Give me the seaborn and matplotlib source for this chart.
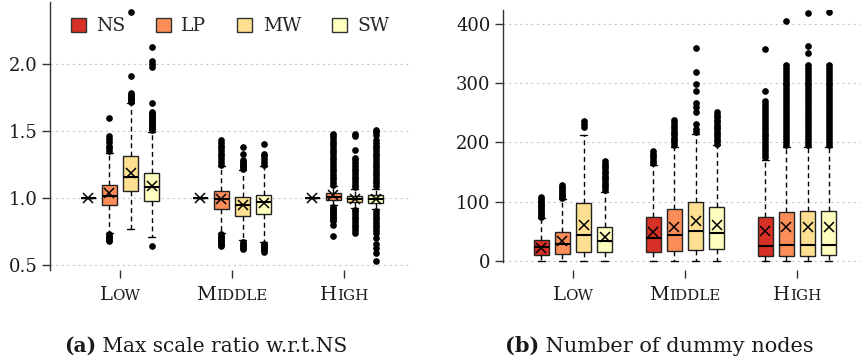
import matplotlib
matplotlib.use("Agg")
import matplotlib.pyplot as plt
import seaborn as sns
from matplotlib.patches import Patch
from matplotlib.offsetbox import TextArea, HPacker, AnnotationBbox

# ---------------- data ----------------
levels = ["Low", "Middle", "High"]
methods = ["NS", "LP", "MW", "SW"]
colors = ["#d73027", "#fc8d59", "#fee090", "#ffffbf"]

# (a) Max scale ratio w.r.t. NS  -- each list ordered NS, LP, MW, SW
a_whislo = {"Low": [1.0, 0.74, 0.77, 0.707], "Middle": [1.0, 0.737, 0.69, 0.67], "High": [1.0, 0.948, 0.925, 0.92]}
a_q1 = {"Low": [1.0, 0.95, 1.05, 0.98], "Middle": [1.0, 0.915, 0.868, 0.878], "High": [1.0, 0.985, 0.968, 0.965]}
a_med = {"Low": [1.0, 1.017, 1.16, 1.08], "Middle": [1.0, 0.993, 0.95, 0.968], "High": [1.0, 1.01, 0.995, 0.995]}
a_q3 = {"Low": [1.0, 1.10, 1.316, 1.19], "Middle": [1.0, 1.052, 1.005, 1.025], "High": [1.0, 1.035, 1.017, 1.022]}
a_whishi = {"Low": [1.0, 1.333, 1.707, 1.49], "Middle": [1.0, 1.24, 1.21, 1.24], "High": [1.0, 1.09, 1.065, 1.07]}
a_mean = {"Low": [1.0, 1.035, 1.19, 1.09], "Middle": [1.0, 0.99, 0.95, 0.96], "High": [1.0, 1.02, 0.995, 0.995]}
a_fliers = {
    "Low": [
        [],
        [0.68, 0.69, 0.70, 0.71, 0.72, 0.73, 1.35, 1.37, 1.39, 1.42, 1.44, 1.46, 1.60],
        [1.72, 1.73, 1.74, 1.75, 1.76, 1.77, 1.78, 1.91, 2.39],
        [0.645, 1.51, 1.52, 1.53, 1.54, 1.55, 1.56, 1.57, 1.58, 1.59, 1.60, 1.61, 1.62,
         1.63, 1.64, 1.71, 1.98, 2.00, 2.02, 2.13],
    ],
    "Middle": [
        [],
        [0.64, 0.65, 0.66, 0.67, 0.68, 0.69, 0.70, 0.71, 0.72, 0.73, 1.25, 1.27, 1.29,
         1.31, 1.33, 1.35, 1.37, 1.39, 1.41, 1.43],
        [0.62, 0.63, 0.64, 0.65, 0.66, 0.67, 1.22, 1.23, 1.24, 1.25, 1.26, 1.27, 1.28, 1.33, 1.38],
        [0.60, 0.61, 0.62, 0.63, 0.64, 0.65, 0.66, 1.25, 1.27, 1.29, 1.31, 1.33, 1.40],
    ],
    "High": [
        [],
        [0.72, 0.80, 0.83, 0.84, 0.85, 0.86, 0.87, 0.88, 0.89, 0.90, 0.91, 0.92, 0.93,
         1.10, 1.12, 1.14, 1.16, 1.18, 1.20, 1.22, 1.24, 1.26, 1.28, 1.30, 1.32, 1.34,
         1.36, 1.38, 1.40, 1.42, 1.44, 1.46, 1.48],
        [0.74, 0.76, 0.78, 0.80, 0.82, 0.84, 0.86, 0.88, 0.90, 0.91, 1.08, 1.10, 1.12,
         1.14, 1.16, 1.18, 1.20, 1.22, 1.24, 1.26, 1.28, 1.30, 1.36, 1.46, 1.48],
        [0.53, 0.59, 0.63, 0.66, 0.70, 0.74, 0.76, 0.78, 0.80, 0.82, 0.84, 0.86, 0.88,
         0.90, 1.09, 1.11, 1.13, 1.15, 1.17, 1.19, 1.21, 1.23, 1.25, 1.27, 1.29, 1.31,
         1.33, 1.35, 1.37, 1.39, 1.41, 1.43, 1.47, 1.49, 1.51],
    ],
}

# (b) Number of dummy nodes
b_whislo = {"Low": [0, 0, 0, 0], "Middle": [0, 0, 0, 0], "High": [0, 0, 0, 0]}
b_q1 = {"Low": [9.6, 11.3, 14.7, 14.7], "Middle": [15.7, 17.5, 18.6, 20.3], "High": [8.4, 9.0, 9.0, 10.0]}
b_med = {"Low": [23.7, 28.7, 44.0, 34.0], "Middle": [38.0, 44.0, 50.0, 48.0], "High": [25.3, 26.5, 26.5, 27.6]}
b_q3 = {"Low": [35.6, 49.4, 97.5, 57.0], "Middle": [75.0, 87.8, 98.9, 90.5], "High": [74.0, 83.0, 84.0, 84.0]}
b_whishi = {"Low": [72, 104, 212, 117], "Middle": [162, 193, 214, 196], "High": [170, 193, 193, 193]}
b_mean = {"Low": [22.6, 33.7, 60.0, 41.0], "Middle": [49.6, 58.0, 66.6, 61.0], "High": [50.6, 57.0, 57.6, 57.6]}
b_fliers = {
    "Low": [
        [74, 77, 80, 83, 86, 89, 92, 95, 98, 101, 104, 108],
        [106, 109, 112, 115, 118, 121, 124, 128],
        [226, 231, 236],
        [120, 124, 128, 132, 136, 140, 144, 148, 152, 156, 160, 164, 168],
    ],
    "Middle": [
        [165, 169, 173, 177, 181, 185],
        [196, 200, 204, 208, 212, 216, 220, 224, 228, 232, 237],
        [218, 223, 231, 252, 260, 267, 287, 298, 318, 359],
        [198, 202, 206, 210, 214, 218, 222, 226, 230, 234, 238, 242, 246, 251],
    ],
    "High": [
        [175, 180, 185, 190, 195, 200, 205, 210, 215, 220, 225, 230, 235, 240, 245,
         250, 255, 260, 265, 270, 287, 357],
        [196, 201, 206, 211, 216, 221, 226, 231, 236, 241, 246, 251, 256, 261, 266,
         271, 276, 281, 286, 291, 296, 301, 306, 311, 316, 321, 326, 330, 404],
        [196, 201, 206, 211, 216, 221, 226, 231, 236, 241, 246, 251, 256, 261, 266,
         271, 276, 281, 286, 291, 296, 301, 306, 311, 316, 321, 326, 331, 350, 362, 419],
        [196, 201, 206, 211, 216, 221, 226, 231, 236, 241, 246, 251, 256, 261, 266,
         271, 276, 281, 286, 291, 296, 301, 306, 311, 316, 321, 326, 330, 420],
    ],
}

a_yticks = [0.5, 1.0, 1.5, 2.0]
b_yticks = [0, 100, 200, 300, 400]
caption_a = ("(a)", " Max scale ratio w.r.t.NS")
caption_b = ("(b)", " Number of dummy nodes")

# ---------------- style ----------------
sns.set_theme(style="ticks")
FAM = ["DejaVu Serif"]
plt.rcParams["font.family"] = FAM
plt.rcParams["axes.linewidth"] = 1.0
palette = sns.color_palette(colors)
TXT = "#1a1a1a"

fig = plt.figure(figsize=(8.6, 3.63), dpi=100)
W, H = 860.0, 363.0
axA = fig.add_axes([50 / W, (H - 270) / H, 360 / W, 268 / H])
axB = fig.add_axes([503 / W, (H - 270) / H, 357 / W, 260 / H])

offsets = [-1.5 * 0.189, -0.5 * 0.189, 0.5 * 0.189, 1.5 * 0.189]
BOXW = 0.131


def draw_panel(ax, whislo, q1, med, q3, whishi, mean, fliers):
    for gi, lev in enumerate(levels):
        stats = []
        for mi in range(len(methods)):
            stats.append(dict(whislo=whislo[lev][mi], q1=q1[lev][mi], med=med[lev][mi],
                              q3=q3[lev][mi], whishi=whishi[lev][mi], mean=mean[lev][mi],
                              fliers=fliers[lev][mi]))
        pos = [gi + o for o in offsets]
        res = ax.bxp(stats, positions=pos, widths=BOXW, patch_artist=True,
                     showmeans=True, meanline=False, showfliers=True,
                     capwidths=0.06, manage_ticks=False,
                     boxprops=dict(edgecolor="#222222", linewidth=1.0),
                     medianprops=dict(color="black", linewidth=1.5),
                     whiskerprops=dict(color="black", linewidth=1.0, linestyle=(0, (3.5, 2.5))),
                     capprops=dict(color="black", linewidth=1.0),
                     flierprops=dict(marker="o", markerfacecolor="black",
                                     markeredgecolor="black", markersize=3.8),
                     meanprops=dict(marker="x", markeredgecolor="black",
                                    markerfacecolor="black", markersize=6.5,
                                    markeredgewidth=1.1))
        for patch, c in zip(res["boxes"], palette):
            patch.set_facecolor(c)


draw_panel(axA, a_whislo, a_q1, a_med, a_q3, a_whishi, a_mean, a_fliers)
draw_panel(axB, b_whislo, b_q1, b_med, b_q3, b_whishi, b_mean, b_fliers)

axA.set_ylim(0.4627, 2.4627)
axB.set_ylim(-15.2, 423.3)
axA.set_xlim(-0.625, 2.59)
axB.set_xlim(-0.625, 2.5625)
axA.set_yticks(a_yticks)
axA.set_yticklabels([f"{v:.1f}" for v in a_yticks])
axB.set_yticks(b_yticks)
axB.set_yticklabels([str(v) for v in b_yticks])
axB.spines["left"].set_bounds(-1.5, 423.3)

for ax in (axA, axB):
    sns.despine(ax=ax, top=True, right=True, bottom=True)
    ax.spines["left"].set_color("#333333")
    ax.set_xticks(range(len(levels)))
    ax.set_xticklabels([""] * len(levels))
    ax.tick_params(axis="x", direction="out", length=6, width=1.0, color="#333333", pad=2)
    ax.tick_params(axis="y", direction="out", length=6, width=1.0, color="#333333",
                   labelsize=13, pad=3, labelcolor=TXT)
    ax.yaxis.grid(True, linestyle=(0, (2, 3)), color="#c8c8c8", linewidth=0.8)
    ax.xaxis.grid(False)
    ax.set_axisbelow(True)
    ax.set_facecolor("white")
    # small-caps category labels
    for i, lev in enumerate(levels):
        parts = [TextArea(lev[0].upper(), textprops=dict(size=14, family=FAM, color=TXT)),
                 TextArea(lev[1:].upper(), textprops=dict(size=10.9, family=FAM, color=TXT))]
        box = HPacker(children=parts, align="baseline", pad=0, sep=0)
        ab = AnnotationBbox(box, (i, H - 295), xycoords=("data", "figure pixels"),
                            frameon=False, box_alignment=(0.5, 0.5), annotation_clip=False)
        ax.add_artist(ab)

# legend
handles = [Patch(facecolor=c, edgecolor="#333333", linewidth=1.0, label=m)
           for m, c in zip(methods, palette)]
axA.legend(handles=handles, ncol=4, loc="upper center", bbox_to_anchor=(0.5, 0.985),
           frameon=False, fontsize=13.5, handlelength=0.8, handleheight=0.8,
           handletextpad=0.55, columnspacing=1.65, borderaxespad=0.2)

# captions
for (bold, rest), xc, sz in ((caption_a, 206, 14.5), (caption_b, 659, 15.0)):
    parts = [TextArea(bold, textprops=dict(size=sz, family=FAM, weight="bold", color=TXT)),
             TextArea(rest, textprops=dict(size=sz, family=FAM, color=TXT))]
    box = HPacker(children=parts, align="baseline", pad=0, sep=0)
    ab = AnnotationBbox(box, (xc / W, (H - 346) / H), xycoords="figure fraction",
                        frameon=False, box_alignment=(0.5, 0.5), annotation_clip=False)
    fig.add_artist(ab)

fig.savefig("out.png", dpi=100, facecolor="white")
